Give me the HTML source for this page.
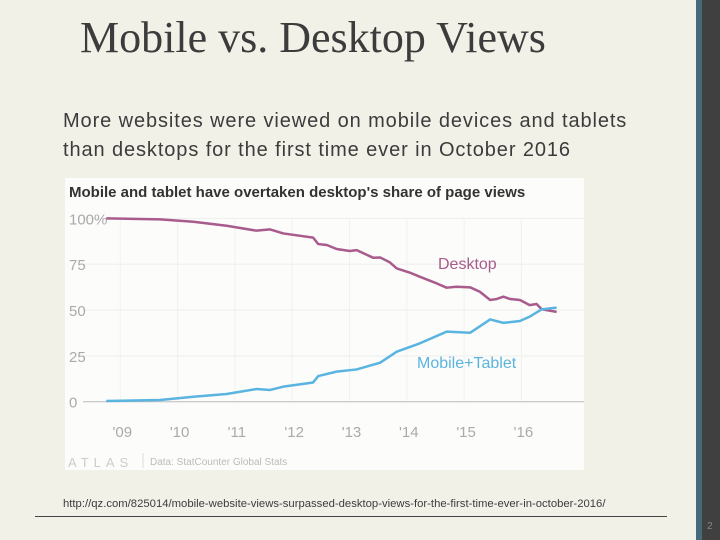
<!DOCTYPE html>
<html><head><meta charset="utf-8"><style>
body{margin:0;width:720px;height:540px;overflow:hidden;background:#f2f1e8;position:relative;font-family:"Liberation Sans",sans-serif;color:#3c3c3c}
.abs{position:absolute;white-space:nowrap}
</style></head><body>
<div class="abs" style="left:80px;top:13px;font-family:'Liberation Serif',serif;font-size:44px;line-height:50px">Mobile vs. Desktop Views</div>
<div class="abs" style="left:63px;top:107px;font-size:20px;letter-spacing:0.9px;line-height:29px">More websites were viewed on mobile devices and tablets<br>than desktops for the first time ever in October 2016</div>
<div class="abs" style="left:63px;top:498px;font-size:11.3px">http://qz.com/825014/mobile-website-views-surpassed-desktop-views-for-the-first-time-ever-in-october-2016/</div>
<div class="abs" style="left:35px;top:516px;width:632px;height:1px;background:#444"></div>
<div class="abs" style="left:696px;top:0;width:6px;height:540px;background:#466a7c"></div>
<div class="abs" style="left:702px;top:0;width:18px;height:540px;background:#404040"></div>
<div class="abs" style="left:707px;top:521px;font-size:10px;color:#888">2</div>
<svg class="abs" style="left:65px;top:178px" width="519" height="292" viewBox="65 178 519 292">
<rect x="65" y="178" width="519" height="292" fill="#fcfcfa"/>
<text x="69" y="197" font-size="15" font-weight="bold" fill="#333">Mobile and tablet have overtaken desktop's share of page views</text>
<g id="grid"></g><g id="lines"></g>
<text x="438" y="269" font-size="16" fill="#a85b8c">Desktop</text>
<text x="417" y="368" font-size="16" fill="#5ab4e0">Mobile+Tablet</text>
<text x="68" y="467" font-size="13" fill="#ccc" letter-spacing="5">ATLAS</text>
<line x1="143" y1="453" x2="143" y2="468" stroke="#ddd"/>
<text x="150" y="465" font-size="10" fill="#bbb">Data: StatCounter Global Stats</text>
</svg>
<script>
const yTicks=[0,25,50,75,100];
const yTickLabels=["0","25","50","75","100%"];
const xYears=[2009,2010,2011,2012,2013,2014,2015,2016];
const xTickLabels=["'09","'10","'11","'12","'13","'14","'15","'16"];
const desktopDates=[2008.72,2009.66,2010.24,2010.82,2011.34,2011.58,2011.81,2012.33,2012.42,2012.57,2012.74,2012.97,2013.09,2013.38,2013.5,2013.67,2013.79,2014.02,2014.19,2014.49,2014.66,2014.83,2015.07,2015.24,2015.42,2015.53,2015.65,2015.77,2015.94,2016.11,2016.23,2016.32,2016.58];
const desktopValues=[100,99.5,98.2,96,93.3,94,91.8,89.5,86,85.5,83.3,82.2,82.7,78.5,78.7,76,72.7,70.4,68.2,64.5,62.2,62.7,62.4,60,55.5,56,57.3,56,55.5,52.7,53.3,50.4,49];
const mobileDates=[2008.72,2009.66,2010.24,2010.82,2011.34,2011.58,2011.81,2012.33,2012.42,2012.74,2013.09,2013.5,2013.79,2014.19,2014.66,2015.07,2015.42,2015.65,2015.94,2016.11,2016.23,2016.32,2016.58];
const mobileValues=[0.4,0.9,2.7,4.2,6.9,6.4,8.2,10.5,14,16.4,17.6,21.3,27.3,31.8,38.2,37.6,44.9,43,44,46.4,48.7,50.4,51.3];
const NS="http://www.w3.org/2000/svg";
const xS=y=>122.3+(y-2009)*57.3;
const yS=v=>401.7-v*1.833;
const grid=document.getElementById('grid'),lines=document.getElementById('lines');
function mk(t,a,p){const e=document.createElementNS(NS,t);for(const k in a)e.setAttribute(k,a[k]);p.appendChild(e);return e;}
yTicks.forEach((v,i)=>{
 const l=mk('line',{x1:83,x2:584,y1:yS(v),y2:yS(v),stroke:v===0?'#bbb':'#eee','stroke-width':1},grid);
 
 
 const t=mk('text',{x:69,y:yS(v)+6,'font-size':15,fill:'#aaa'},grid);t.textContent=yTickLabels[i];
 
 
});
xYears.forEach((y,i)=>{
 const l=mk('line',{x1:xS(y)-2,x2:xS(y)-2,y1:218,y2:401,stroke:'#f1f1f1'},grid);
 
 
 const t=mk('text',{x:xS(y),y:437,'font-size':15,fill:'#aaa','text-anchor':'middle'},grid);t.textContent=xTickLabels[i];
 
 
});
function line(d,v,c,n){
 const p=mk('polyline',{points:d.map((x,i)=>xS(x)+','+yS(v[i])).join(' '),fill:'none',stroke:c,'stroke-width':2.5,'stroke-linejoin':'round'},lines);
 
 
}
line(desktopDates,desktopValues,'#a85b8c','desktop-line');
line(mobileDates,mobileValues,'#5ab4e0','mobile-line');
</script>
</body></html>
